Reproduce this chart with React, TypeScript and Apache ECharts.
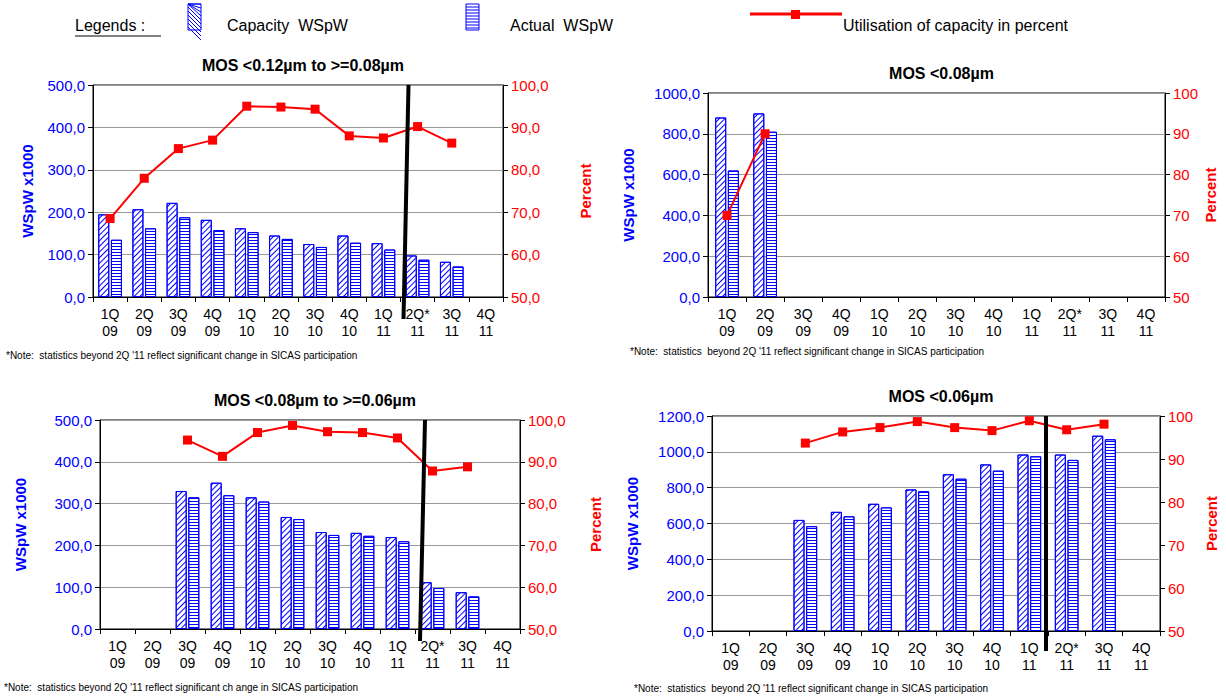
import { useEffect, useRef } from "react";
import * as echarts from "echarts";

const quarters = ["1Q\n09", "2Q\n09", "3Q\n09", "4Q\n09", "1Q\n10", "2Q\n10", "3Q\n10", "4Q\n10", "1Q\n11", "2Q*\n11", "3Q\n11", "4Q\n11"];
const titles = ["MOS <0.12µm to >=0.08µm", "MOS <0.08µm", "MOS <0.08µm to >=0.06µm", "MOS <0.06µm"];
const N = null;

const capacity1 = [195, 207, 222, 182, 162, 145, 125, 145, 127, 98, 83, N];
const actual1 = [135, 162, 188, 158, 153, 137, 118, 128, 112, 88, 72, N];
const percent1 = [68.5, 78, 85, 87, 95, 94.8, 94.3, 88, 87.5, 90.2, 86.3, N];

const capacity2 = [880, 900, N, N, N, N, N, N, N, N, N, N];
const actual2 = [620, 810, N, N, N, N, N, N, N, N, N, N];
const percent2 = [70, 90, N, N, N, N, N, N, N, N, N, N];

const capacity3 = [N, N, 330, 350, 315, 268, 232, 230, 220, 112, 88, N];
const actual3 = [N, N, 315, 320, 305, 263, 225, 223, 210, 98, 78, N];
const percent3 = [N, N, 95.2, 91.3, 97, 98.7, 97.2, 97, 95.7, 87.8, 88.8, N];

const capacity4 = [N, N, 620, 665, 710, 790, 875, 930, 985, 985, 1090, N];
const actual4 = [N, N, 585, 640, 690, 780, 850, 895, 975, 955, 1070, N];
const percent4 = [N, N, 93.7, 96.3, 97.3, 98.7, 97.3, 96.6, 98.9, 96.8, 98.1, N];

const leftMax = [500, 1000, 500, 1200];
const leftStep = [100, 200, 100, 200];
const rightDecimal = [true, false, true, false];
const leftGap = [58, 72, 72, 72];
const rightGap = [75, 38, 68, 44];

const FONT = "Liberation Sans, Arial, sans-serif";
const BLUE = "#0000ff";
const RED = "#ff0000";

const grids = [
  { left: 93, top: 85, width: 410, height: 212 },
  { left: 708, top: 93, width: 457, height: 204 },
  { left: 100, top: 420, width: 420, height: 209 },
  { left: 712, top: 416, width: 448, height: 215 },
];
const cutLines = [
  { dxTop: 8, dxBot: 3, ext: 22 },
  null,
  { dxTop: 10, dxBot: 5, ext: 12 },
  { dxTop: -2, dxBot: -2, ext: 20 },
];

const comma = (v: number, d: number) => v.toFixed(d).replace(".", ",");

export default function App() {
  const ref = useRef<HTMLDivElement | null>(null);

  useEffect(() => {
    if (!ref.current) return;
    document.body.style.margin = "0";
    const chart = echarts.init(ref.current, undefined, { renderer: "svg" });
    const data = [
      [capacity1, actual1, percent1],
      [capacity2, actual2, percent2],
      [capacity3, actual3, percent3],
      [capacity4, actual4, percent4],
    ];

    const xAxis: any[] = [];
    const yAxis: any[] = [];
    const series: any[] = [];
    const title: any[] = [];
    grids.forEach((g, i) => {
      title.push({
        text: titles[i],
        left: g.left + g.width / 2,
        textAlign: "center",
        top: g.top - 33,
        textStyle: { fontFamily: FONT, fontSize: 16, fontWeight: "bold", color: "#000" },
      });
      xAxis.push({
        type: "category",
        gridIndex: i,
        data: quarters,
        axisLine: { lineStyle: { color: "#000" } },
        axisTick: { show: true, lineStyle: { color: "#000" } },
        axisLabel: { color: "#000", fontFamily: FONT, fontSize: 14, interval: 0, lineHeight: 17 },
      });
      yAxis.push({
        type: "value",
        gridIndex: i,
        min: 0,
        max: leftMax[i],
        interval: leftStep[i],
        name: "WSpW x1000",
        nameLocation: "middle",
        nameGap: leftGap[i],
        nameTextStyle: { color: BLUE, fontFamily: FONT, fontSize: 15, fontWeight: "bold" },
        axisLine: { show: true, lineStyle: { color: "#000" } },
        axisTick: { show: true },
        axisLabel: { color: BLUE, fontFamily: FONT, fontSize: 15, formatter: (v: number) => comma(v, 1) },
        splitLine: { lineStyle: { color: "#999" } },
      });
      yAxis.push({
        type: "value",
        gridIndex: i,
        min: 50,
        max: 100,
        interval: 10,
        name: "Percent",
        nameLocation: "middle",
        nameGap: rightGap[i],
        nameTextStyle: { color: RED, fontFamily: FONT, fontSize: 15, fontWeight: "bold" },
        axisLine: { show: true, lineStyle: { color: "#000" } },
        axisTick: { show: true },
        axisLabel: {
          color: RED,
          fontFamily: FONT,
          fontSize: 15,
          formatter: (v: number) => (rightDecimal[i] ? comma(v, 1) : String(v)),
        },
        splitLine: { show: false },
      });
      const [cap, act, pct] = data[i];
      series.push({
        type: "bar",
        xAxisIndex: i,
        yAxisIndex: 2 * i,
        data: cap,
        barWidth: 11,
        barGap: "15%",
        itemStyle: {
          color: "#fff",
          borderColor: BLUE,
          borderWidth: 1,
          decal: { symbol: "rect", color: BLUE, dashArrayX: [1, 0], dashArrayY: [1, 3], rotation: -Math.PI / 4 },
        },
      });
      series.push({
        type: "bar",
        xAxisIndex: i,
        yAxisIndex: 2 * i,
        data: act,
        barWidth: 11,
        itemStyle: {
          color: "#fff",
          borderColor: BLUE,
          borderWidth: 1,
          decal: { symbol: "rect", color: BLUE, dashArrayX: [1, 0], dashArrayY: [1, 2], rotation: 0 },
        },
      });
      series.push({
        type: "line",
        xAxisIndex: i,
        yAxisIndex: 2 * i + 1,
        data: pct,
        symbol: "rect",
        symbolSize: 9,
        lineStyle: { color: RED, width: 2 },
        itemStyle: { color: RED },
        z: 5,
      });
    });

    const hatch = (x: number, y: number, horizontal: boolean) => {
      const children: any[] = [
        { type: "rect", shape: { x, y, width: 13, height: 26 }, style: { fill: "#fff", stroke: BLUE, lineWidth: 1 } },
      ];
      if (horizontal) {
        for (let k = 3; k < 26; k += 3)
          children.push({ type: "line", shape: { x1: x, y1: y + k, x2: x + 13, y2: y + k }, style: { stroke: BLUE } });
      } else {
        for (let k = -13; k < 26; k += 4)
          children.push({
            type: "line",
            shape: { x1: x, y1: Math.max(y, y + k), x2: x + 13, y2: y + k + 13 },
            style: { stroke: BLUE },
          });
      }
      return { type: "group", children };
    };

    const notes = [
      { x: 6, y: 350, t: "*Note:  statistics beyond 2Q '11 reflect significant change in SICAS participation" },
      { x: 630, y: 346, t: "*Note:  statistics  beyond 2Q '11 reflect significant change in SICAS participation" },
      { x: 4, y: 682, t: "*Note:  statistics beyond 2Q '11 reflect significant ch ange in SICAS participation" },
      { x: 634, y: 683, t: "*Note:  statistics  beyond 2Q '11 reflect significant change in SICAS participation" },
    ];

    const graphic: any[] = [
      { type: "text", left: 75, top: 17, style: { text: "Legends :", fontFamily: FONT, fontSize: 16, fill: "#000" } },
      { type: "line", shape: { x1: 75, y1: 36, x2: 161, y2: 36 }, style: { stroke: "#000", lineWidth: 1 } },
      hatch(188, 4, false),
      { type: "text", left: 227, top: 17, style: { text: "Capacity  WSpW", fontFamily: FONT, fontSize: 16, fill: "#000" } },
      hatch(466, 4, true),
      { type: "text", left: 510, top: 17, style: { text: "Actual  WSpW", fontFamily: FONT, fontSize: 16, fill: "#000" } },
      { type: "line", shape: { x1: 750, y1: 14, x2: 842, y2: 14 }, style: { stroke: RED, lineWidth: 3 } },
      { type: "rect", shape: { x: 791, y: 10, width: 9, height: 9 }, style: { fill: RED } },
      { type: "text", left: 843, top: 17, style: { text: "Utilisation of capacity in percent", fontFamily: FONT, fontSize: 16, fill: "#000" } },
      ...notes.map((n) => ({
        type: "text",
        left: n.x,
        top: n.y,
        style: { text: n.t, fontFamily: FONT, fontSize: 10, fill: "#000" },
      })),
    ];

    chart.setOption({
      animation: false,
      title,
      grid: grids.map((g) => ({ ...g, show: true, borderColor: "#000", borderWidth: 1, backgroundColor: "transparent" })),
      xAxis,
      yAxis,
      series,
      graphic,
    });

    const extra: any[] = [];
    grids.forEach((g, i) => {
      const c = cutLines[i];
      if (!c) return;
      const a = chart.convertToPixel({ xAxisIndex: i }, quarters[8]) as number;
      const b = chart.convertToPixel({ xAxisIndex: i }, quarters[9]) as number;
      const x = (a + b) / 2;
      extra.push({
        type: "line",
        z: 100,
        shape: { x1: x + c.dxTop, y1: g.top, x2: x + c.dxBot, y2: g.top + g.height + c.ext },
        style: { stroke: "#000", lineWidth: 4 },
      });
    });
    chart.setOption({ graphic: [...graphic, ...extra] });

    return () => chart.dispose();
  }, []);

  return <div ref={ref} style={{ width: 1226, height: 698 }} />;
}
